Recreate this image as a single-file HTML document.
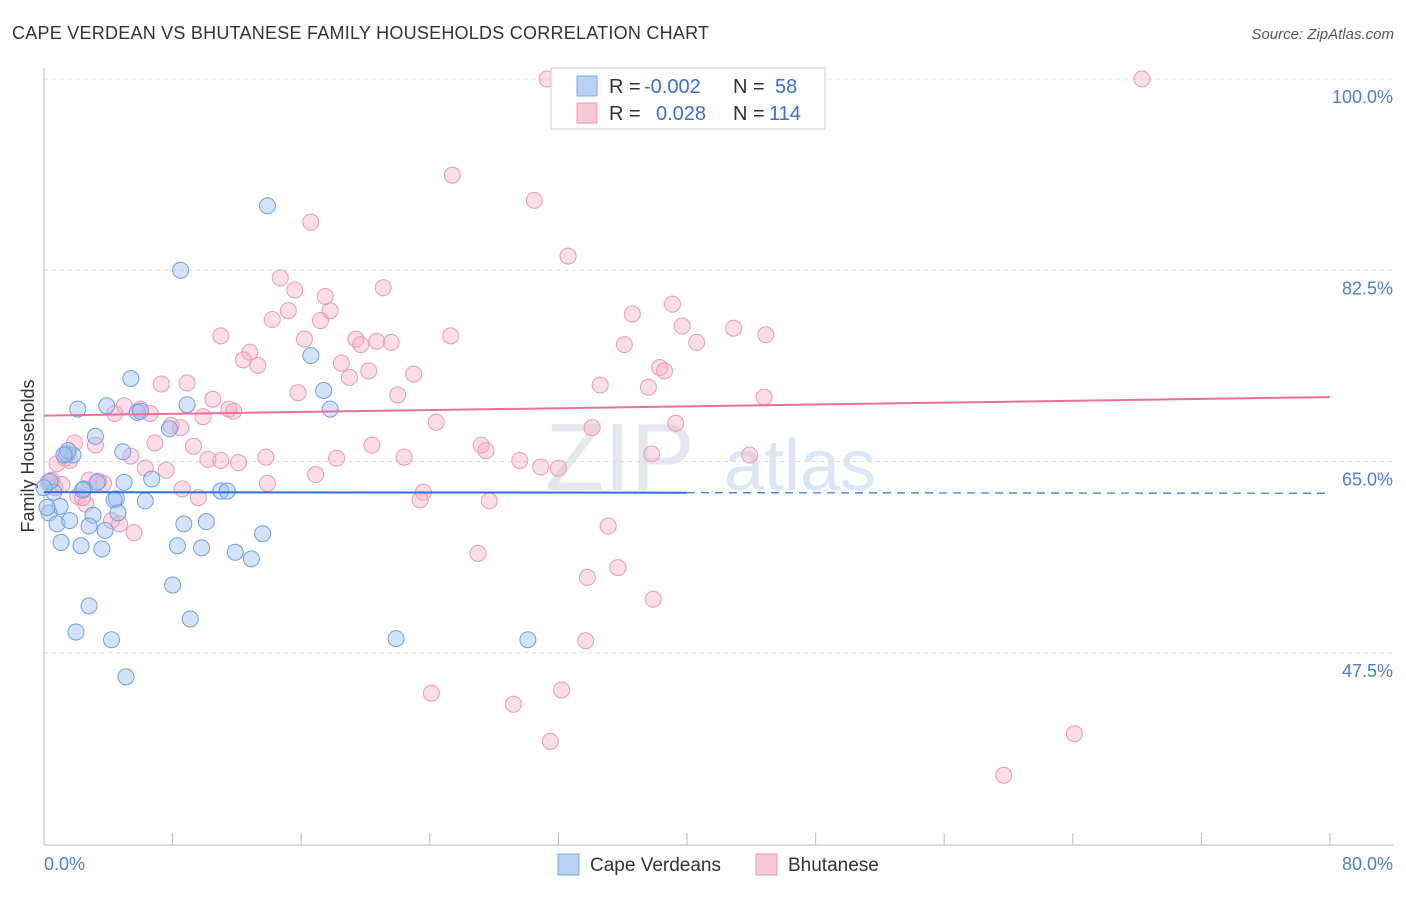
<!DOCTYPE html>
<html><head><meta charset="utf-8"><style>
body{margin:0;background:#fff;font-family:"Liberation Sans",sans-serif;}
svg text{font-family:"Liberation Sans",sans-serif;}
</style></head><body>
<svg id="chart" width="1406" height="892">
<text x="12" y="39" font-size="18" fill="#333" textLength="697">CAPE VERDEAN VS BHUTANESE FAMILY HOUSEHOLDS CORRELATION CHART</text>
<text x="1394" y="39" font-size="15" fill="#555" text-anchor="end" font-style="italic">Source: ZipAtlas.com</text>
<text x="620" y="490" font-size="96" fill="#e4e8ee" font-family="Liberation Serif" text-anchor="middle">ZIP</text>
<text x="800" y="490" font-size="72" fill="#dbe6f5" text-anchor="middle">atlas</text>
<g id="grid"></g>
<line x1="44" y1="68" x2="44" y2="845" stroke="#bbb"/>
<line x1="44" y1="845" x2="1393" y2="845" stroke="#bbb"/>
<g id="xticks"></g>
<text x="34" y="456" font-size="18" fill="#333" transform="rotate(-90 34 456)" text-anchor="middle">Family Households</text>
<text x="44" y="870" font-size="18" fill="#4a7fd4">0.0%</text>
<text x="1393" y="870" font-size="18" fill="#4a7fd4" text-anchor="end">80.0%</text>
<g id="pts"></g>
<g id="trends"></g>
<g>
<rect x="551" y="68" width="274" height="61" fill="#fff" stroke="#ccc"/>
<rect x="577" y="76" width="20" height="20" fill="#b7d2f4" stroke="#7aaae0"/>
<rect x="577" y="103" width="20" height="20" fill="#f8c8d8" stroke="#e89ab5"/>
<text x="609" y="93" font-size="20" fill="#333">R =</text>
<text x="644" y="93" font-size="20" fill="#3a6fd0">-0.002</text>
<text x="733" y="93" font-size="20" fill="#333">N =</text>
<text x="775" y="93" font-size="20" fill="#3a6fd0">58</text>
<text x="609" y="120" font-size="20" fill="#333">R =</text>
<text x="656" y="120" font-size="20" fill="#3a6fd0">0.028</text>
<text x="733" y="120" font-size="20" fill="#333">N =</text>
<text x="769" y="120" font-size="20" fill="#3a6fd0">114</text>
</g>
<g>
<rect x="558" y="854" width="21" height="21" fill="#b7d2f4" stroke="#7aaae0"/>
<text x="590" y="871" font-size="19" fill="#333">Cape Verdeans</text>
<rect x="756" y="854" width="21" height="21" fill="#f8c8d8" stroke="#e89ab5"/>
<text x="788" y="871" font-size="19" fill="#333">Bhutanese</text>
</g>
</svg>
<script>
const yTicks=[100,82.5,65,47.5];
const yTickLabels=["100.0%","82.5%","65.0%","47.5%"];
const xTicks=[0,8,16,24,32,40,48,56,64,72,80];
const blueX=[13.9,8.5,5.4,16.6,17.4,2.1,3.9,5.8,6.0,8.9,17.8,7.8,3.2,1.4,1.8,4.9,6.7,0.6,2.5,2.4,3.3,4.98,4.5,4.36,6.3,11.0,11.4,0.37,1.0,0.31,0.81,1.6,3.05,2.8,3.8,8.7,10.1,13.6,1.06,2.3,3.6,8.3,9.8,11.9,12.9,8.0,2.8,9.1,1.99,4.2,21.9,30.1,5.1,1.5,1.24,4.6,0.0,0.19];
const blueY=[88.4,82.5,72.6,74.7,71.5,69.8,70.1,69.5,69.6,70.2,69.8,68.0,67.3,65.7,65.6,65.9,63.4,62.2,62.5,62.4,63.1,63.1,61.6,61.5,61.4,62.3,62.3,63.2,60.9,60.3,59.3,59.6,60.1,59.1,58.7,59.3,59.5,58.4,57.6,57.3,57.0,57.3,57.1,56.7,56.1,53.7,51.8,50.6,49.4,48.7,48.8,48.7,45.3,66.0,65.6,60.3,62.6,60.8];
const pinkX=[31.3,43.1,68.3,25.4,30.5,16.6,32.6,14.7,15.6,17.5,21.1,15.2,14.2,17.8,17.2,39.1,36.6,11.0,16.2,19.4,19.7,20.7,21.6,25.3,39.7,42.9,44.9,40.6,36.1,12.8,12.4,13.3,18.5,20.2,19.0,23.0,38.3,38.6,7.3,8.9,34.6,37.6,15.8,10.5,22.0,44.8,5.0,4.4,6.0,6.6,11.5,11.8,9.9,7.9,8.5,24.4,34.1,39.3,1.9,3.2,6.9,9.3,20.4,27.2,27.5,5.4,1.3,1.6,10.2,11.0,12.1,13.8,18.2,22.4,29.6,30.9,32.0,37.8,43.9,0.81,6.3,7.6,16.9,2.8,3.7,3.4,13.9,8.6,23.6,0.5,0.25,0.68,1.12,9.6,23.4,27.7,2.1,2.6,2.4,4.2,4.7,5.6,35.1,27.0,35.7,33.8,37.9,33.7,24.1,29.2,32.2,31.5,64.1,59.7];
const pinkY=[100,100,100,91.2,88.9,86.9,83.8,81.8,80.7,80.1,80.9,78.8,78.0,78.8,77.9,79.4,78.5,76.5,76.2,76.2,75.7,76.0,75.9,76.5,77.4,77.2,76.6,75.9,75.7,75.0,74.3,73.8,74.0,73.3,72.7,73.0,73.6,73.3,72.1,72.2,72.0,71.8,71.3,70.7,71.1,70.9,70.1,69.4,69.8,69.4,69.8,69.6,69.1,68.3,68.1,68.6,68.1,68.5,66.7,66.5,66.7,66.4,66.5,66.5,66.0,65.5,65.3,65.1,65.2,65.1,64.9,65.4,65.3,65.4,65.1,64.5,64.4,65.7,65.6,64.8,64.4,64.2,63.8,63.3,63.0,63.2,63.0,62.5,62.2,63.3,63.1,62.6,62.9,61.7,61.5,61.4,61.8,61.1,61.7,59.6,59.3,58.5,59.1,56.6,55.3,54.4,52.4,48.6,43.8,42.8,44.1,39.4,40.1,36.3];
const blueTrend=[62.2,62.1];
const pinkTrend=[69.2,70.9];
const ns="http://www.w3.org/2000/svg";
const X=v=>44+v/80*1286, Y=v=>79+(100-v)*10.93;
function mk(t,a,p){const e=document.createElementNS(ns,t);for(const k in a)e.setAttribute(k,a[k]);p.appendChild(e);return e;}
const grid=document.getElementById('grid');
yTicks.forEach((v,i)=>{
 const l=mk('line',{x1:44,x2:1393,y1:Y(v),y2:Y(v),stroke:'#ddd','stroke-dasharray':'4,4'},grid);
 
 
 const t=mk('text',{x:1393,y:Y(v)+24,'font-size':18,fill:'#4a7fd4','text-anchor':'end'},grid);
 t.textContent=yTickLabels[i];
 
 
});
const xt=document.getElementById('xticks');
xTicks.forEach(v=>{
 const l=mk('line',{x1:X(v),x2:X(v),y1:833,y2:845,stroke:'#bbb'},xt);
 
 
});
const pts=document.getElementById('pts');
pinkX.forEach((x,i)=>{
 const c=mk('circle',{cx:X(x),cy:Y(pinkY[i]),r:8,fill:'rgba(244,170,195,0.4)',stroke:'#e89ab5','stroke-width':1},pts);
 
 
});
blueX.forEach((x,i)=>{
 const c=mk('circle',{cx:X(x),cy:Y(blueY[i]),r:8,fill:'rgba(160,196,240,0.45)',stroke:'#6f9fdc','stroke-width':1},pts);
 
 
});
const tr=document.getElementById('trends');
const bAt=x=>blueTrend[0]+(blueTrend[1]-blueTrend[0])*x/80;
let b1=mk('line',{x1:X(0),y1:Y(bAt(0)),x2:X(40),y2:Y(bAt(40)),stroke:'#2f6fd8','stroke-width':2},tr);


let b2=mk('line',{x1:X(40),y1:Y(bAt(40)),x2:X(80),y2:Y(bAt(80)),stroke:'#2f6fd8','stroke-width':1.2,'stroke-dasharray':'8,6'},tr);


let p1=mk('line',{x1:X(0),y1:Y(pinkTrend[0]),x2:X(80),y2:Y(pinkTrend[1]),stroke:'#e8709a','stroke-width':2},tr);


</script>
</body></html>
